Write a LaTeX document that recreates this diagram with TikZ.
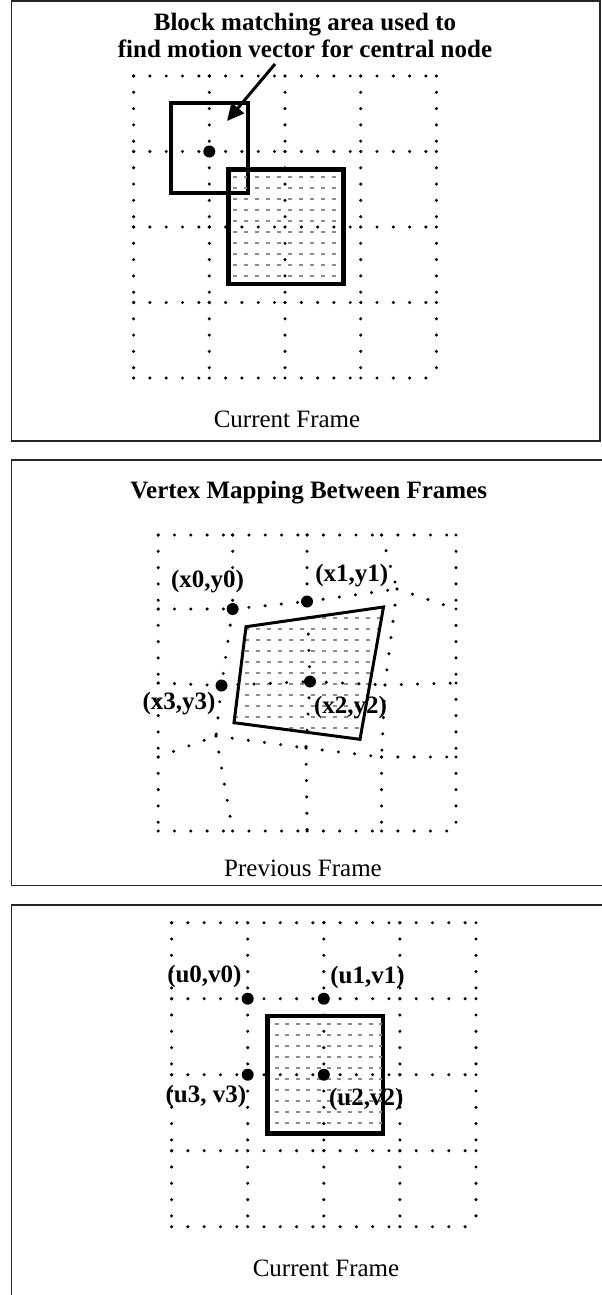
\documentclass[tikz,border=0pt]{standalone}
\usepackage{fontspec}
\setmainfont{Liberation Serif}
\usetikzlibrary{arrows.meta,positioning}

\begin{document}
\begin{tikzpicture}[
    x=1pt, y=-1pt,
    panel/.style={draw=black!85, line width=1.6pt},
    griddot/.style={line width=3.4pt, line cap=round, dash pattern=on 0pt off 16.3pt},
    hatch/.style={draw=black!45, line width=2pt},
    outline/.style={draw, line width=3pt, inner sep=0pt},
    vdot/.style={circle, fill, inner sep=0pt, minimum size=12pt},
    caption/.style={font=\fontsize{25}{27}\selectfont, inner sep=0pt, anchor=base},
    title/.style={font=\fontsize{25}{27}\selectfont\bfseries, inner sep=0pt, align=center},
    lbl/.style={font=\fontsize{25}{27}\selectfont\bfseries, inner sep=0pt},
    pointer/.style={-{Triangle[length=17pt,width=16pt]}, line width=3pt}
]
    \useasboundingbox (0,0) rectangle (602,1295);

    % Frames
    \draw[panel] (11.5,1) rectangle (600,441);
    \draw[panel] (603,460) -- (11.5,460) -- (11.5,885.5) -- (603,885.5);
    \draw[panel] (603,905) -- (11.5,905) -- (11.5,1296);

    % Grid nodes
    \foreach \p/\ox/\oy/\dx/\dy in {a/133.6/76/75.7/75.5, b/158.2/535/74.45/74, c/171.6/922.7/76.1/76}
      \foreach \i in {0,...,4}
        \foreach \j in {0,...,4}
          \coordinate (\p-\i-\j) at ({\ox+\dx*\i},{\oy+\dy*\j});

    % Displaced nodes in previous frame
    \coordinate (b-2-1) at (307,601.5);
    \coordinate (b-3-1) at (397,589);
    \coordinate (b-1-2) at (221.5,685.5);
    \coordinate (b-2-2) at (310,681.5);
    \coordinate (b-3-2) at (385,685);
    \coordinate (b-1-3) at (216,736);
    \coordinate (b-2-3) at (306,748);

    % Blocks
    \node[outline, minimum width=75.9pt, minimum height=88pt] (search) at (209.5,148) {};
    \node[outline, minimum width=113.4pt, minimum height=113pt] (block) at (286,226.5) {};
    \node[outline, minimum width=114pt, minimum height=116pt] (cblock) at (325,1074.7) {};
    \coordinate (qa) at (246,626.7);
    \coordinate (qb) at (383.5,607);
    \coordinate (qc) at (360,739.3);
    \coordinate (qd) at (234,722.7);

    % Shading
    \begin{scope}
      \clip (block.north west) rectangle (block.south east);
      \foreach \k in {0,...,9}
        \draw[hatch, dash pattern=on 4pt off 7pt] (233.3,{177.3+11*\k}) -- (343,{177.3+11*\k});
    \end{scope}
    \begin{scope}
      \clip (qa) -- (qb) -- (qc) -- (qd) -- cycle;
      \foreach \k in {0,...,10}
        \draw[hatch, dash pattern=on 4pt off 7pt] (234,{618.3+11*\k}) -- (384,{618.3+11*\k});
    \end{scope}
    \begin{scope}
      \clip (cblock.north west) rectangle (cblock.south east);
      \foreach \k in {0,...,9}
        \draw[hatch, dash pattern=on 4pt off 6.4pt] (275,{1024+11*\k}) -- (382,{1024+11*\k});
    \end{scope}

    % Dotted grids
    \foreach \p in {a,b,c} {
      \foreach \i [count=\k] in {0,...,3}
        \foreach \j in {0,...,4}
          \draw[griddot] (\p-\i-\j) -- (\p-\k-\j);
      \foreach \i in {0,...,4}
        \foreach \j [count=\k] in {0,...,3}
          \draw[griddot] (\p-\i-\j) -- (\p-\i-\k);
    }

    % Outlines on top
    \draw[outline] (search.north west) rectangle (search.south east);
    \draw[outline] (block.north west) rectangle (block.south east);
    \draw[outline] (qa) -- (qb) -- (qc) -- (qd) -- cycle;
    \draw[outline] (cblock.north west) rectangle (cblock.south east);

    % Vertices
    \node[vdot] (centre) at (a-1-1) {};
    \node[vdot] (x0) at (b-1-1) {};
    \node[vdot] (x1) at (b-2-1) {};
    \node[vdot] (x2) at (b-2-2) {};
    \node[vdot] (x3) at (b-1-2) {};
    \node[vdot] (u0) at (c-1-1) {};
    \node[vdot] (u1) at (c-2-1) {};
    \node[vdot] (u2) at (c-2-2) {};
    \node[vdot] (u3) at (c-1-2) {};

    % Texts
    \node[title, anchor=north] (note) at (305,13) {Block matching area used to\\find motion vector for central node};
    \coordinate (tail) at (275,64);
    \coordinate (tip) at (227,121);
    \draw[pointer] (tail) -- (tip);
    \node[caption] (cur1) at (287,427) {Current Frame};

    \node[title, anchor=base] (maptitle) at (308.7,498) {Vertex Mapping Between Frames};
    \node[lbl] (lx0) at (207.5,582) {(x0,y0)};
    \node[lbl] (lx1) at (351.7,576) {(x1,y1)};
    \node[lbl] (lx3) at (179,704) {(x3,y3)};
    \node[lbl] (lx2) at (350.5,708) {(x2,y2)};
    \node[caption] (prev) at (303,876) {Previous Frame};

    \node[lbl] (lu0) at (204.4,976) {(u0,v0)};
    \node[lbl] (lu1) at (367.5,977) {(u1,v1)};
    \node[lbl] (lu3) at (205.8,1096) {(u3, v3)};
    \node[lbl] (lu2) at (366.2,1099) {(u2,v2)};
    \node[caption] (cur2) at (326,1276) {Current Frame};
\end{tikzpicture}
\end{document}
